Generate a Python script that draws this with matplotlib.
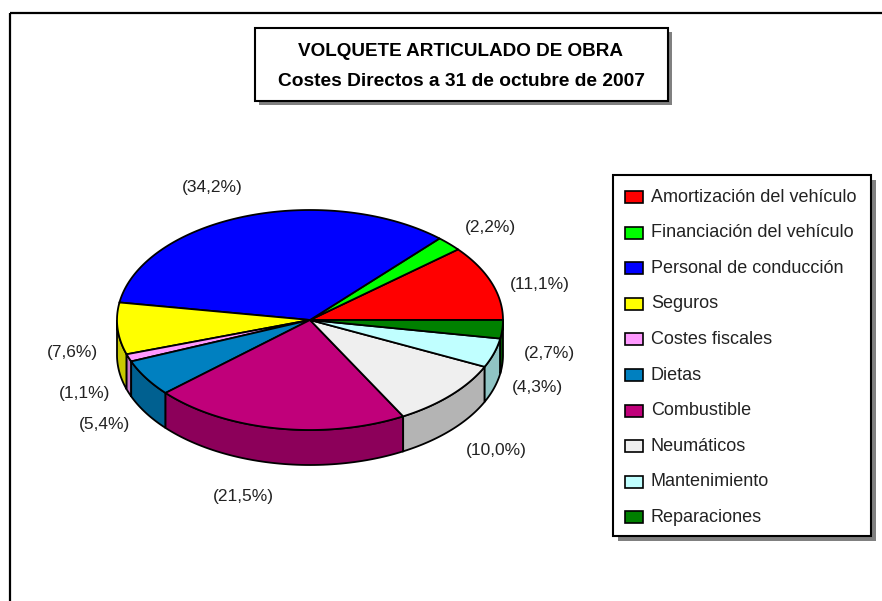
import numpy as np
import matplotlib
matplotlib.use("Agg")
import matplotlib.pyplot as plt
from matplotlib.patches import Polygon, Rectangle

# data (percent of direct costs)
categories = ["Amortización del vehículo", "Financiación del vehículo", "Personal de conducción",
              "Seguros", "Costes fiscales", "Dietas", "Combustible", "Neumáticos",
              "Mantenimiento", "Reparaciones"]
values = [11.1, 2.2, 34.2, 7.6, 1.1, 5.4, 21.5, 10.0, 4.3, 2.7]

top_colors = ["#FF0000", "#00FF00", "#0000FF", "#FFFF00", "#FF99FF",
              "#0080C0", "#C0007A", "#EFEFEF", "#C0FFFF", "#008000"]
side_colors = ["#B00000", "#00B000", "#0000B0", "#C8C800", "#C878C8",
               "#006090", "#8C005A", "#B4B4B4", "#90C4C4", "#005A00"]

# small hand nudges for label placement (pixels)
label_nudge = [(6, 12), (9, 5), (-19, 0), (0, 1), (-2, 0),
               (-3, 2), (-26, 2), (13, 3), (0, 1), (2, 1)]

fig = plt.figure(figsize=(8.82, 6.01), dpi=100)
ax = fig.add_axes([0, 0, 1, 1])
ax.set_xlim(0, 882)
ax.set_ylim(601, 0)
ax.axis("off")

# outer chart frame
ax.add_patch(Rectangle((10, 13), 900, 620, fill=False, ec="black", lw=1.6))

cx, cy, rx, ry, depth = 310, 320, 193, 110, 35

def ell(t):
    r = np.radians(t)
    return cx + rx * np.cos(r), cy - ry * np.sin(r)

vals = np.array(values)
ang = np.concatenate([[0], np.cumsum(vals) / vals.sum() * 360])

# side walls (front half only)
for i in range(len(vals)):
    t0, t1 = max(ang[i], 180), min(ang[i + 1], 360)
    if t0 >= t1:
        continue
    ts = np.linspace(t0, t1, 60)
    xs, ys = ell(ts)
    pts = list(zip(xs, ys)) + list(zip(xs[::-1], ys[::-1] + depth))
    ax.add_patch(Polygon(pts, closed=True, fc=side_colors[i], ec="black", lw=1.3, zorder=2))

# top faces
for i in range(len(vals)):
    ts = np.linspace(ang[i], ang[i + 1], 100)
    xs, ys = ell(ts)
    pts = [(cx, cy)] + list(zip(xs, ys))
    ax.add_patch(Polygon(pts, closed=True, fc=top_colors[i], ec="black", lw=1.3, zorder=3))

# percentage labels
for i, v in enumerate(vals):
    m = np.radians((ang[i] + ang[i + 1]) / 2)
    s = np.sin(m)
    lx = cx + (rx + 45) * np.cos(m)
    ly = cy - (ry + 30) * s
    if s < 0:
        ly += 19 + 18 * abs(s)
    lx += label_nudge[i][0]
    ly += label_nudge[i][1]
    txt = "({:.1f}%)".format(v).replace(".", ",")
    ax.text(lx, ly, txt, ha="center", va="center", fontsize=12.5,
            family="Liberation Sans", color="#222222", zorder=5)

# title box
ax.add_patch(Rectangle((259, 32), 413, 73, fc="#808080", ec="none", zorder=6))
ax.add_patch(Rectangle((255, 28), 413, 73, fc="white", ec="black", lw=1.5, zorder=7))
ax.text(461, 52, "VOLQUETE ARTICULADO DE OBRA", ha="center", va="center",
        fontsize=13.6, fontweight="bold", family="Liberation Sans", zorder=8)
ax.text(461, 82, "Costes Directos a 31 de octubre de 2007", ha="center", va="center",
        fontsize=13.8, fontweight="bold", family="Liberation Sans", zorder=8)

# legend box
lx0, ly0, lw_, lh_ = 613, 175, 258, 361
ax.add_patch(Rectangle((lx0 + 5, ly0 + 5), lw_, lh_, fc="#808080", ec="none", zorder=6))
ax.add_patch(Rectangle((lx0, ly0), lw_, lh_, fc="white", ec="black", lw=1.5, zorder=7))
for i, name in enumerate(categories):
    yy = 197 + i * 35.6
    ax.add_patch(Rectangle((625, yy - 6), 18, 12, fc=top_colors[i], ec="black", lw=1.2, zorder=8))
    ax.text(651, yy, name, ha="left", va="center", fontsize=13,
            family="Liberation Sans", color="#222222", zorder=8)

fig.savefig("out.png", dpi=100, facecolor="white")
